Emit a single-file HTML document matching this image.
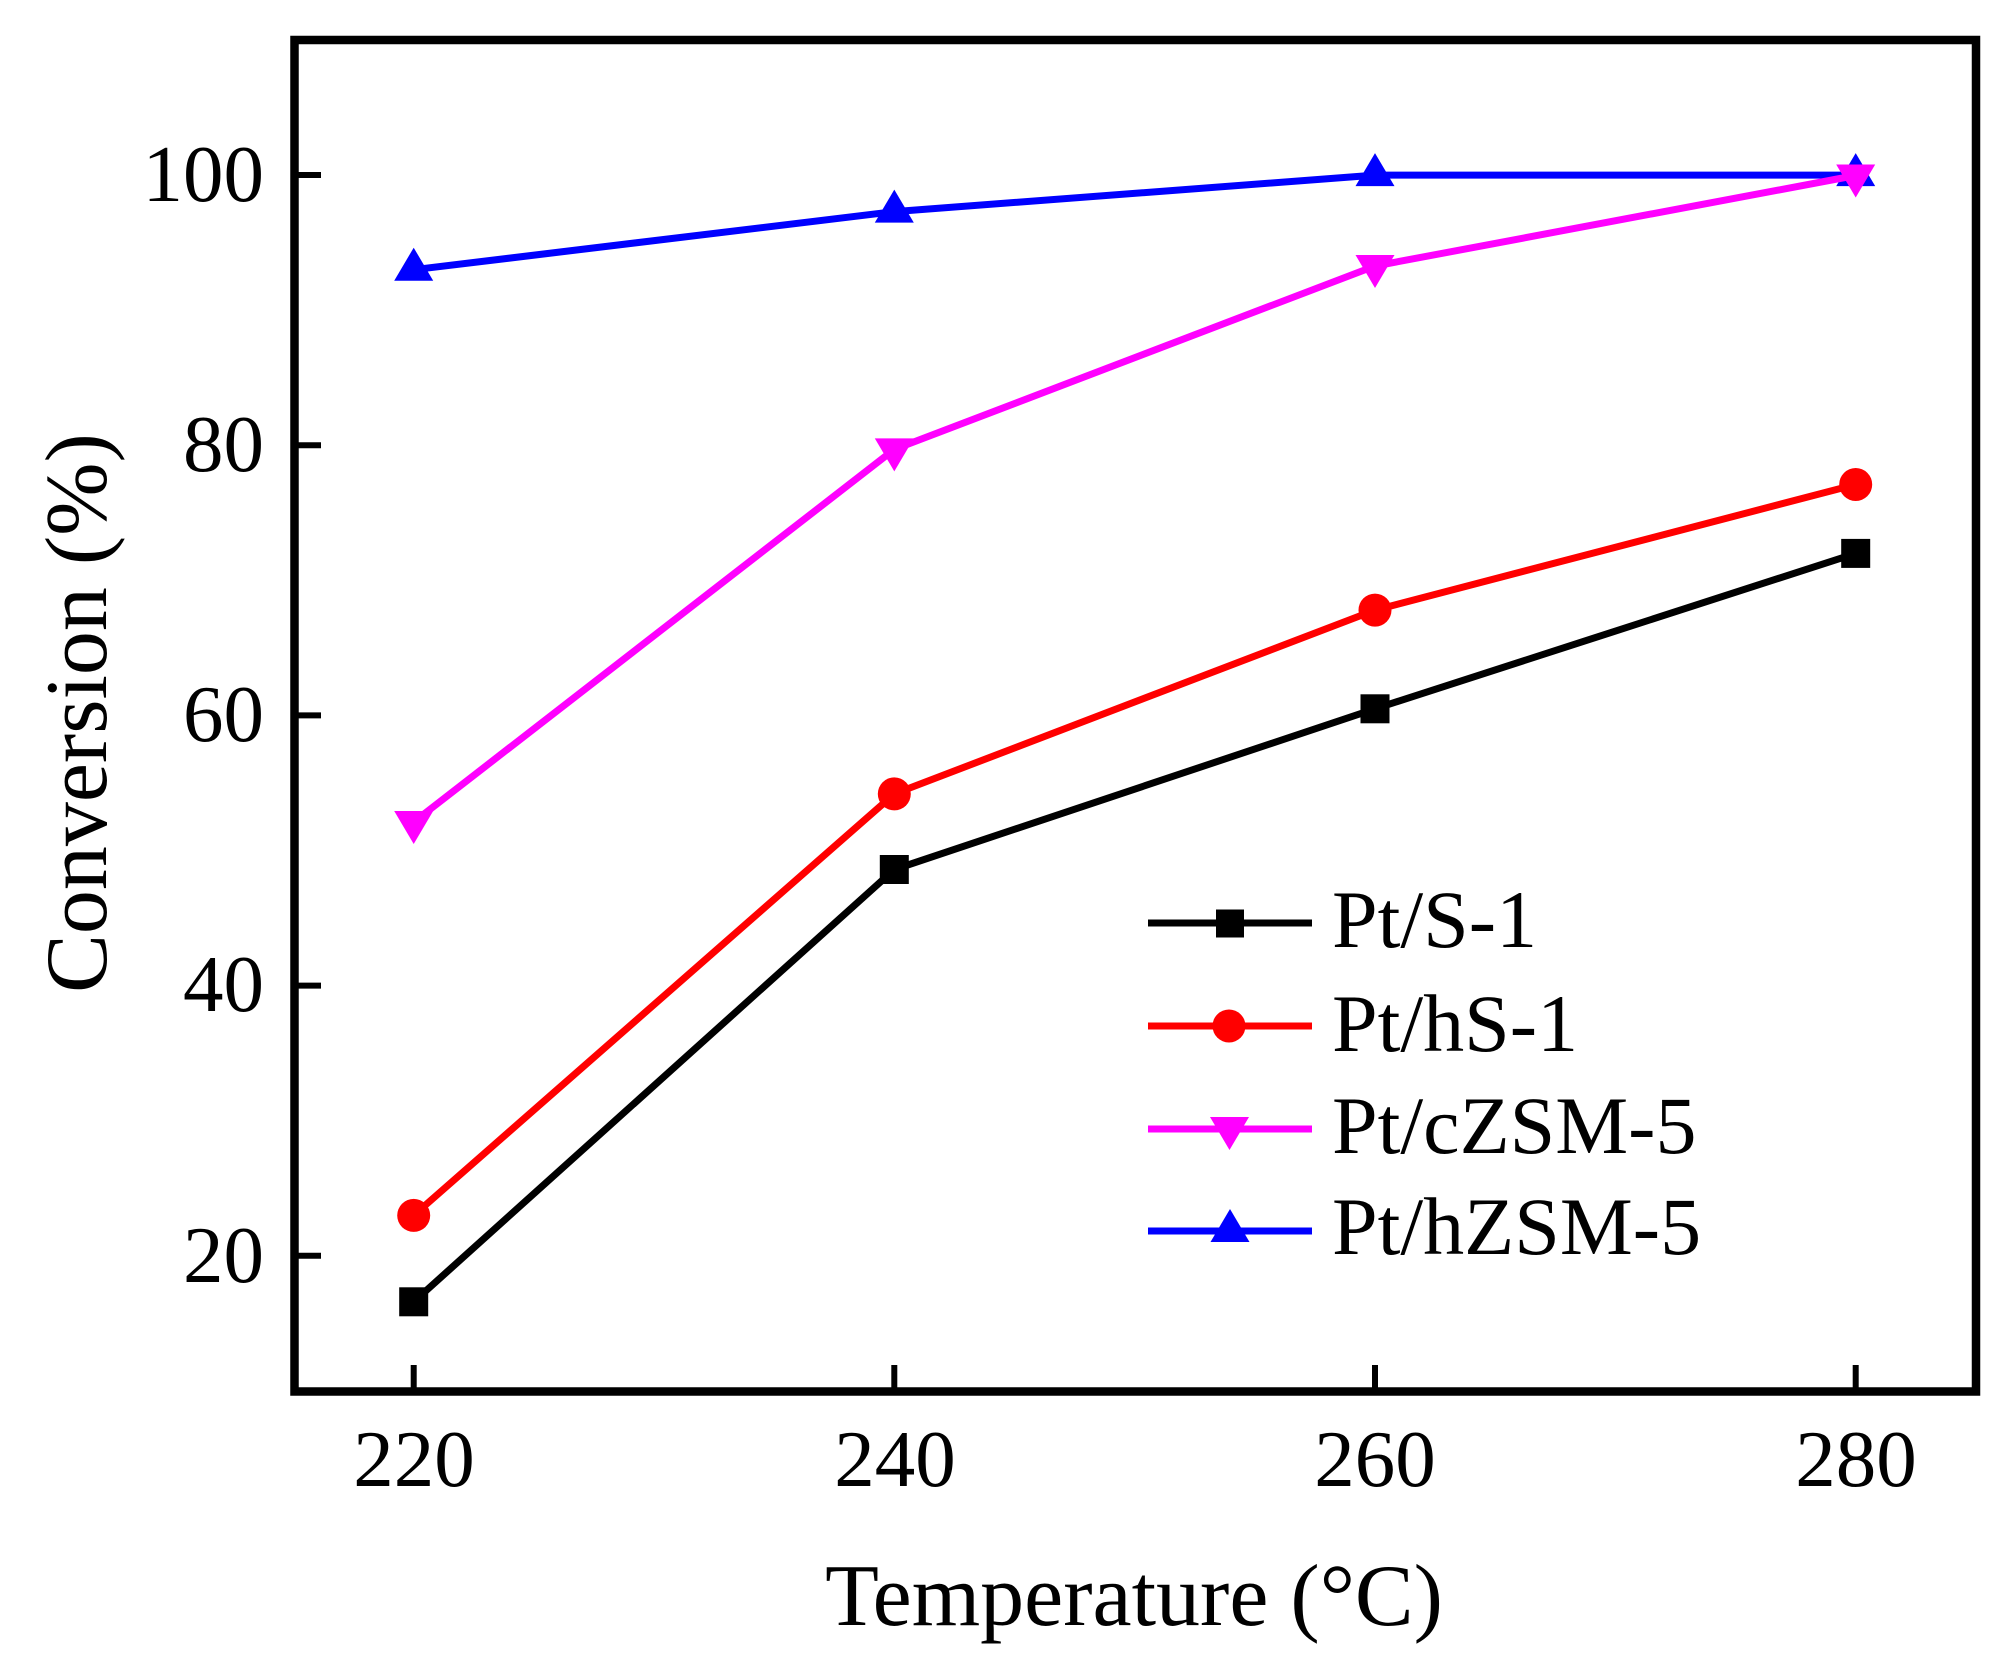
<!DOCTYPE html>
<html>
<head>
<meta charset="utf-8">
<style>
  html, body { margin: 0; padding: 0; background: #ffffff; }
  svg { display: block; }
  text { font-family: "Liberation Serif", "Times New Roman", serif; fill: #000; }
</style>
</head>
<body>
<svg width="2004" height="1668" viewBox="0 0 2004 1668" xmlns="http://www.w3.org/2000/svg">
  <rect x="0" y="0" width="2004" height="1668" fill="#ffffff"/>

  <!-- ticks -->
  <g stroke="#000" stroke-width="6" fill="none">
    <line x1="296" y1="175" x2="321" y2="175"/>
    <line x1="296" y1="445.2" x2="321" y2="445.2"/>
    <line x1="296" y1="715.4" x2="321" y2="715.4"/>
    <line x1="296" y1="985.6" x2="321" y2="985.6"/>
    <line x1="296" y1="1255.8" x2="321" y2="1255.8"/>
    <line x1="413.7" y1="1390" x2="413.7" y2="1365"/>
    <line x1="894.3" y1="1390" x2="894.3" y2="1365"/>
    <line x1="1375" y1="1390" x2="1375" y2="1365"/>
    <line x1="1855.7" y1="1390" x2="1855.7" y2="1365"/>
  </g>

  <!-- frame -->
  <rect x="294.5" y="40" width="1681.5" height="1351.5" fill="none" stroke="#000" stroke-width="8.5"/>

  <!-- y tick labels -->
  <g font-size="81" text-anchor="end">
    <text x="264" y="201">100</text>
    <text x="264" y="471">80</text>
    <text x="264" y="741">60</text>
    <text x="264" y="1011">40</text>
    <text x="264" y="1282">20</text>
  </g>

  <!-- x tick labels -->
  <g font-size="81" text-anchor="middle">
    <text x="414" y="1486">220</text>
    <text x="895" y="1486">240</text>
    <text x="1375" y="1486">260</text>
    <text x="1856" y="1486">280</text>
  </g>

  <!-- axis titles -->
  <text x="1134" y="1625" font-size="88" text-anchor="middle">Temperature (°C)</text>
  <text transform="translate(106,713) rotate(-90)" font-size="88" text-anchor="middle">Conversion (%)</text>

  <!-- Series: Pt/S-1 -->
  <polyline points="413.7,1301.8 894.3,869.5 1375,708.8 1855.7,553.4" fill="none" stroke="#000" stroke-width="7" stroke-linejoin="round"/>
  <g fill="#000">
    <rect x="399.2" y="1287.3" width="29" height="29"/>
    <rect x="879.8" y="855" width="29" height="29"/>
    <rect x="1360.5" y="694.3" width="29" height="29"/>
    <rect x="1841.2" y="538.9" width="29" height="29"/>
  </g>

  <!-- Series: Pt/hS-1 -->
  <polyline points="413.7,1215.4 894.3,793.9 1375,610.1 1855.7,484.5" fill="none" stroke="#ff0000" stroke-width="7" stroke-linejoin="round"/>
  <g fill="#ff0000">
    <circle cx="413.7" cy="1215.4" r="16.5"/>
    <circle cx="894.3" cy="793.9" r="16.5"/>
    <circle cx="1375" cy="610.1" r="16.5"/>
    <circle cx="1855.7" cy="484.5" r="16.5"/>
  </g>

  <!-- Series: Pt/hZSM-5 -->
  <polyline points="413.7,269.7 894.3,211.6 1375,175.1 1855.7,175.1" fill="none" stroke="#0000ff" stroke-width="7" stroke-linejoin="round"/>
  <g fill="#0000ff">
    <polygon points="413.7,247.7 394.2,280.7 433.2,280.7"/>
    <polygon points="894.3,189.6 874.8,222.6 913.8,222.6"/>
    <polygon points="1375,153.1 1355.5,186.1 1394.5,186.1"/>
    <polygon points="1855.7,153.1 1836.2,186.1 1875.2,186.1"/>
  </g>

  <!-- Series: Pt/cZSM-5 -->
  <polyline points="413.7,822 894.3,449.4 1375,266 1855.7,175.5" fill="none" stroke="#ff00ff" stroke-width="7" stroke-linejoin="round"/>
  <g fill="#ff00ff">
    <polygon points="394.2,811 433.2,811 413.7,844"/>
    <polygon points="874.8,438.4 913.8,438.4 894.3,471.4"/>
    <polygon points="1355.5,255 1394.5,255 1375,288"/>
    <polygon points="1836.2,164.5 1875.2,164.5 1855.7,197.5"/>
  </g>

  <!-- Legend -->
  <g stroke-width="7">
    <line x1="1148" y1="923" x2="1312" y2="923" stroke="#000"/>
    <line x1="1148" y1="1026" x2="1312" y2="1026" stroke="#ff0000"/>
    <line x1="1148" y1="1129" x2="1312" y2="1129" stroke="#ff00ff"/>
    <line x1="1148" y1="1231" x2="1312" y2="1231" stroke="#0000ff"/>
  </g>
  <rect x="1216" y="909.5" width="28" height="28" fill="#000"/>
  <circle cx="1229" cy="1026" r="16.5" fill="#ff0000"/>
  <polygon points="1210,1117 1249,1117 1229.5,1150" fill="#ff00ff"/>
  <polygon points="1230,1209 1210.5,1242 1249.5,1242" fill="#0000ff"/>

  <g font-size="82">
    <text x="1332" y="947">Pt/S-1</text>
    <text x="1332" y="1051">Pt/hS-1</text>
    <text x="1332" y="1153">Pt/cZSM-5</text>
    <text x="1332" y="1254">Pt/hZSM-5</text>
  </g>
</svg>
</body>
</html>
